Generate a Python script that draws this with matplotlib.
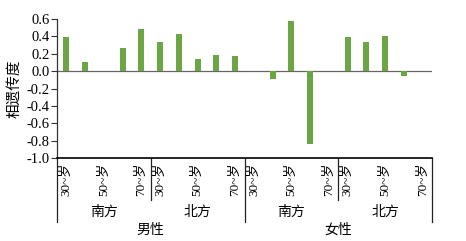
import numpy as np
import matplotlib.pyplot as plt
import matplotlib.transforms as mtransforms

plt.rcParams['font.family'] = ['Liberation Serif', 'Noto Sans CJK SC']
plt.rcParams['axes.unicode_minus'] = True

ages = ['30~岁', '40~岁', '50~岁', '60~岁', '70~岁']
regions = ['南方', '北方']
genders = ['男性', '女性']

male_south = [0.39, 0.10, 0.0, 0.27, 0.49]
male_north = [0.33, 0.43, 0.14, 0.18, 0.17]
female_south = [0.0, -0.09, 0.58, -0.84, 0.0]
female_north = [0.39, 0.33, 0.40, -0.06, 0.0]

values = male_south + male_north + female_south + female_north
n = len(values)
x = np.arange(n)

W, H = 466, 241
fig = plt.figure(figsize=(W / 100, H / 100), dpi=100)
ax = fig.add_axes([57 / W, 1 - 158 / H, (432 - 57) / W, (158 - 19) / H])

bar_color = '#6aa644'
ax.bar(x, values, width=0.32, color=bar_color)
ax.axhline(0, color='#666666', lw=0.9, zorder=0)

ax.set_xlim(-0.5, n - 0.5)
ax.set_ylim(-1.0, 0.6)
yt = np.arange(-1.0, 0.61, 0.2)
ax.set_yticks(yt)
ax.set_yticklabels(['%.1f' % v if abs(v) > 1e-9 else '0.0' for v in yt],
                   fontsize=10.5)
ax.tick_params(axis='y', direction='out', length=4, width=0.8, pad=1.5,
               color='#333333')

for s in ['top', 'right']:
    ax.spines[s].set_visible(False)
ax.spines['left'].set_color('#333333')
ax.spines['bottom'].set_linewidth(1.2)
ax.spines['left'].set_linewidth(0.9)

# age tick labels, only odd decades shown
shown = [i for i in range(n) if i % 5 in (0, 2, 4)]
ax.set_xticks(shown)
ax.set_xticklabels([ages[i % 5] for i in shown], rotation=90, fontsize=9.5,
                   va='top')
ax.tick_params(axis='x', length=0, pad=3)

ax.set_ylabel('相遗传度', fontsize=10.5)
ax.yaxis.set_label_coords(-0.095, 0.5)

# hierarchical category axis below the plot
trans = mtransforms.blended_transform_factory(ax.transData, fig.transFigure)
y_axis = 1 - 158 / H
y_region = 1 - 200 / H
y_gender = 1 - 222 / H
for b in [4.5, 14.5]:
    ax.plot([b, b], [y_axis, y_region], transform=trans, color='#222222',
            lw=0.9, clip_on=False)
for b in [-0.5, 9.5, n - 0.5]:
    ax.plot([b, b], [y_axis, y_gender], transform=trans, color='#222222',
            lw=0.9, clip_on=False)

for k in range(4):
    cx = k * 5 + 2
    ax.text(cx, 1 - 212 / H, regions[k % 2], transform=trans, ha='center',
            va='center', fontsize=10)
for g in range(2):
    cx = g * 10 + 4.5
    ax.text(cx, 1 - 230 / H, genders[g], transform=trans, ha='center',
            va='center', fontsize=10)

fig.savefig('out.png', dpi=100)
